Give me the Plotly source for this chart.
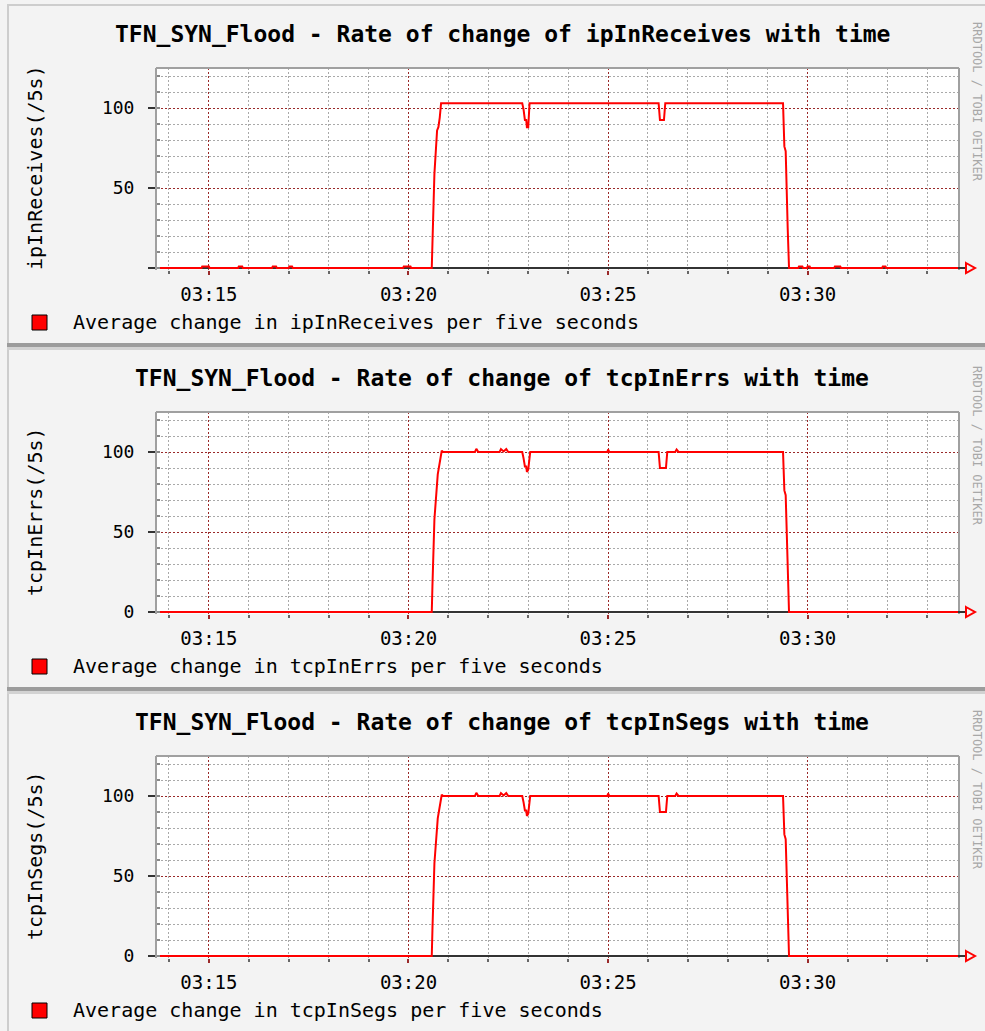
import pandas as pd
import plotly.graph_objects as go

W, H = 985, 1031
DAY = "2000-01-01 "

# ---------------- data ----------------
ip_times = ["03:13:40", "03:14:49", "03:14:50", "03:15:00", "03:15:01", "03:15:44", "03:15:45",
            "03:15:50", "03:15:51", "03:16:35", "03:16:36", "03:16:41", "03:16:42", "03:17:00",
            "03:17:01", "03:17:05", "03:17:06", "03:19:52", "03:19:53", "03:20:03", "03:20:04",
            "03:20:35", "03:20:36", "03:20:39", "03:20:43", "03:20:45", "03:20:47", "03:20:49",
            "03:22:51", "03:22:53", "03:22:55", "03:22:57", "03:22:58", "03:23:00", "03:23:02",
            "03:26:16", "03:26:18", "03:26:24", "03:26:26", "03:29:23", "03:29:25", "03:29:27",
            "03:29:30", "03:29:32", "03:29:46", "03:29:47", "03:29:52", "03:29:53", "03:29:59",
            "03:30:00", "03:30:03", "03:30:04", "03:30:40", "03:30:41", "03:30:49", "03:30:50",
            "03:31:52", "03:31:53", "03:31:57", "03:31:58", "03:33:50"]
ip_values = [0, 0, 1, 1, 0, 0, 1,
             1, 0, 0, 1, 1, 0, 0,
             1, 1, 0, 0, 1, 1, 0,
             0, 15, 59, 86, 88, 94, 103,
             103, 99, 92.5, 92.5, 88, 88, 103,
             103, 92.5, 92.5, 103, 103, 76, 73,
             25, 0, 0, 1, 1, 0, 0,
             1, 1, 0, 0, 1, 1, 0,
             0, 1, 1, 0, 0]

errs_times = ["03:13:40", "03:20:35", "03:20:36", "03:20:39", "03:20:44", "03:20:47", "03:20:50",
              "03:20:52", "03:21:40", "03:21:42", "03:21:45", "03:22:17", "03:22:19", "03:22:23",
              "03:22:27", "03:22:30", "03:22:51", "03:22:53", "03:22:55", "03:22:57", "03:22:58",
              "03:23:00", "03:23:03", "03:24:59", "03:25:00", "03:25:02", "03:26:16", "03:26:18",
              "03:26:27", "03:26:29", "03:26:41", "03:26:43", "03:26:46", "03:29:23", "03:29:25",
              "03:29:27", "03:29:30", "03:29:32", "03:33:50"]
errs_values = [0, 0, 16, 58, 86, 93, 100.8,
               100, 100, 102, 100, 100, 101.8, 100.3,
               101.8, 100, 100, 96, 91, 91, 87.5,
               89, 100, 100, 101.5, 100, 100, 90,
               90, 100, 100, 101.5, 100, 100, 76,
               73, 25, 0, 0]

segs_times = ["03:13:40", "03:20:35", "03:20:36", "03:20:39", "03:20:44", "03:20:47", "03:20:50",
              "03:20:52", "03:21:40", "03:21:42", "03:21:45", "03:22:17", "03:22:19", "03:22:23",
              "03:22:27", "03:22:30", "03:22:51", "03:22:53", "03:22:55", "03:22:57", "03:22:58",
              "03:23:00", "03:23:03", "03:24:59", "03:25:00", "03:25:02", "03:26:16", "03:26:18",
              "03:26:27", "03:26:29", "03:26:41", "03:26:43", "03:26:46", "03:29:23", "03:29:25",
              "03:29:27", "03:29:30", "03:29:32", "03:33:50"]
segs_values = [0, 0, 16, 58, 86, 93, 100.8,
               100, 100, 102, 100, 100, 101.8, 100.3,
               101.8, 100, 100, 96, 91, 91, 87.5,
               89, 100, 100, 101.5, 100, 100, 90,
               90, 100, 100, 101.5, 100, 100, 76,
               73, 25, 0, 0]

titles = ["TFN_SYN_Flood - Rate of change of ipInReceives with time",
          "TFN_SYN_Flood - Rate of change of tcpInErrs with time",
          "TFN_SYN_Flood - Rate of change of tcpInSegs with time"]
y_titles = ["ipInReceives(/5s)", "tcpInErrs(/5s)", "tcpInSegs(/5s)"]
legend_texts = ["Average change in ipInReceives per five seconds",
                "Average change in tcpInErrs per five seconds",
                "Average change in tcpInSegs per five seconds"]
ytick_vals = [0, 50, 100]
ytick_texts = [["", "50", "100"], ["0", "50", "100"], ["0", "50", "100"]]
x_range = ["03:13:42", "03:33:46"]
watermark = "RRDTOOL / TOBI OETIKER"

series = [(ip_times, ip_values), (errs_times, errs_values), (segs_times, segs_values)]

# ---------------- styling ----------------
MONO = "DejaVu Sans Mono"
RED = "#ff0000"
MAJOR = "#9a2a2a"
MINOR = "#a9a9a9"
FRAME = "#a0a0a0"
BG = "#f3f3f3"
PANEL = 344


def fx(px):
    return px / W


def fy(py):
    return 1 - py / H


fig = go.Figure()
shapes = []
annotations = []
layout_axes = {}

for k, (times, vals) in enumerate(series):
    o = PANEL * k
    xs = pd.to_datetime([DAY + t for t in times])
    sfx = "" if k == 0 else str(k + 1)
    fig.add_trace(go.Scatter(
        x=xs, y=vals, mode="lines",
        line=dict(color=RED, width=2),
        xaxis="x" + sfx, yaxis="y" + sfx,
        showlegend=False, hoverinfo="skip"))

    top, bottom = 68 + o, 269.6 + o
    layout_axes["xaxis" + sfx] = dict(
        domain=[fx(157), fx(958)], anchor="y" + sfx, type="date",
        range=[DAY + x_range[0], DAY + x_range[1]],
        tick0=DAY + "03:15:00", dtick=300000, tickformat="%H:%M",
        ticks="outside", ticklen=4, tickcolor=MAJOR, tickwidth=2,
        tickfont=dict(family=MONO, size=19, color="#000"),
        ticklabelstandoff=4,
        showgrid=True, gridcolor=MAJOR, gridwidth=1, griddash="2px,2px",
        minor=dict(dtick=60000, tick0=DAY + "03:15:00", showgrid=True,
                   gridcolor=MINOR, gridwidth=1, griddash="2px,2px",
                   ticks="outside", ticklen=3, tickcolor="#666"),
        showline=False, zeroline=False, automargin=False, fixedrange=True)
    layout_axes["yaxis" + sfx] = dict(
        domain=[fy(bottom), fy(top)], anchor="x" + sfx,
        range=[-1, 125], tickvals=ytick_vals, ticktext=ytick_texts[k],
        ticks="outside", ticklen=7, tickcolor="#333", tickwidth=2,
        tickfont=dict(family=MONO, size=18, color="#000"),
        ticklabelstandoff=10,
        showgrid=True, gridcolor=MAJOR, gridwidth=1, griddash="2px,2px",
        minor=dict(dtick=10, tick0=0, showgrid=True,
                   gridcolor=MINOR, gridwidth=1, griddash="2px,2px",
                   ticks="inside", ticklen=3, tickcolor="#888"),
        showline=True, mirror=True, linecolor=FRAME, linewidth=2,
        zeroline=True, zerolinecolor="#333", zerolinewidth=2,
        automargin=False, fixedrange=True)

    # top frame of plot area
    shapes.append(dict(type="line", xref="paper", yref="paper",
                       x0=fx(156), x1=fx(959), y0=fy(top), y1=fy(top),
                       line=dict(color=FRAME, width=2)))
    # x axis extension + arrow
    shapes.append(dict(type="line", xref="paper", yref="paper",
                       x0=fx(958), x1=fx(966), y0=fy(268 + o), y1=fy(268 + o),
                       line=dict(color="#333", width=2)))
    shapes.append(dict(type="path", xref="paper", yref="paper",
                       path=f"M {fx(966)} {fy(263 + o)} L {fx(975)} {fy(268 + o)} L {fx(966)} {fy(273 + o)} Z",
                       line=dict(color=RED, width=2), fillcolor="rgba(0,0,0,0)"))
    # legend square
    shapes.append(dict(type="rect", xref="paper", yref="paper",
                       x0=fx(32), x1=fx(47), y0=fy(315 + o), y1=fy(330 + o),
                       line=dict(color="#000", width=1), fillcolor=RED))

    annotations.append(dict(text=titles[k], xref="paper", yref="paper",
                            x=fx(502), y=fy(34 + o), xanchor="center", yanchor="middle",
                            showarrow=False, font=dict(family=MONO, size=23, color="#000",
                                                       weight="bold")))
    annotations.append(dict(text=y_titles[k], xref="paper", yref="paper",
                            x=fx(35), y=fy(168 + o), xanchor="center", yanchor="middle",
                            textangle=-90, showarrow=False,
                            font=dict(family=MONO, size=20, color="#000")))
    annotations.append(dict(text=legend_texts[k], xref="paper", yref="paper",
                            x=fx(71), y=fy(322 + o), xanchor="left", yanchor="middle",
                            showarrow=False, font=dict(family=MONO, size=20, color="#000")))
    annotations.append(dict(text=watermark, xref="paper", yref="paper",
                            x=fx(977), y=fy(102 + o), xanchor="center", yanchor="middle",
                            textangle=90, showarrow=False,
                            font=dict(family=MONO, size=12, color="#a8a8a8")))

# panel borders / separators
shapes.append(dict(type="rect", xref="paper", yref="paper", x0=fx(7), x1=fx(9),
                   y0=0, y1=fy(5), line=dict(width=0), fillcolor="#cdcdcd", layer="below"))
shapes.append(dict(type="rect", xref="paper", yref="paper", x0=fx(7), x1=1,
                   y0=fy(6), y1=fy(4), line=dict(width=0), fillcolor="#cdcdcd", layer="below"))
for k in (1, 2):
    yb = PANEL * k
    shapes.append(dict(type="rect", xref="paper", yref="paper", x0=fx(7), x1=1,
                       y0=fy(yb + 3), y1=fy(yb - 1), line=dict(width=0),
                       fillcolor="#9c9c9c", layer="below"))
    shapes.append(dict(type="rect", xref="paper", yref="paper", x0=fx(7), x1=1,
                       y0=fy(yb + 6), y1=fy(yb + 3), line=dict(width=0),
                       fillcolor="#d2d2d2", layer="below"))

fig.update_layout(
    width=W, height=H,
    margin=dict(l=0, r=0, t=0, b=0),
    paper_bgcolor=BG, plot_bgcolor="#ffffff",
    showlegend=False,
    shapes=shapes, annotations=annotations,
    **layout_axes)

fig.write_html("out.html",
               config={"displayModeBar": False},
               post_script="document.body.style.margin='0px';document.body.style.overflow='hidden';")
